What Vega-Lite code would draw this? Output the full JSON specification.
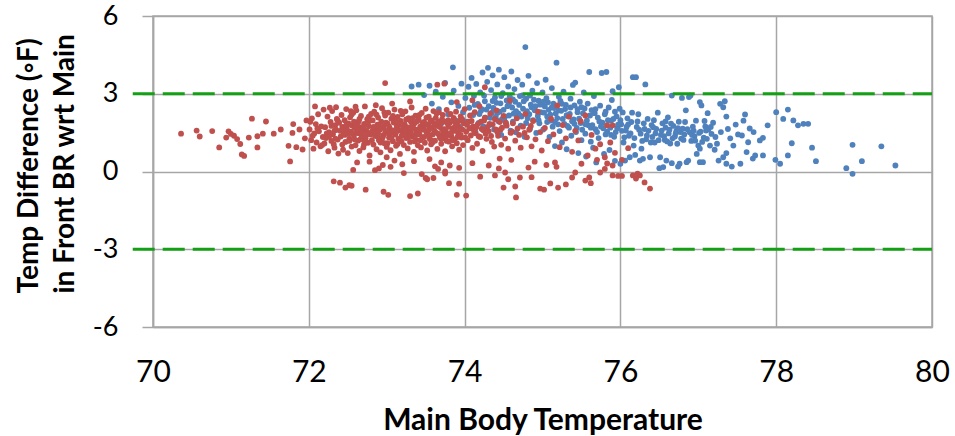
{
"$schema": "https://vega.github.io/schema/vega-lite/v6.json",
"width": 779, "height": 311,
"autosize": "none",
"padding": {"left": 153, "top": 16, "right": 23, "bottom": 109},
"background": "white",
"config": {"view": {"stroke": "#a6a6a6", "strokeWidth": 1.5}, "font": "Lato"},
"datasets": {
"pts": [
{"x":70.36,"y":1.46,"g":"r"},{"x":70.56,"y":1.58,"g":"r"},{"x":70.60,"y":1.35,"g":"r"},{"x":70.76,"y":1.56,"g":"r"},{"x":70.85,"y":0.93,"g":"r"},{"x":70.94,"y":1.31,"g":"r"},{"x":70.97,"y":1.55,"g":"r"},{"x":71.00,"y":1.45,"g":"r"},{"x":71.04,"y":1.38,"g":"r"},{"x":71.08,"y":1.25,"g":"r"},{"x":71.12,"y":1.06,"g":"r"},{"x":71.14,"y":0.66,"g":"r"},{"x":71.17,"y":0.60,"g":"r"},{"x":71.23,"y":1.31,"g":"r"},{"x":71.27,"y":2.04,"g":"r"},{"x":71.34,"y":1.36,"g":"r"},{"x":71.34,"y":0.93,"g":"r"},{"x":71.41,"y":1.46,"g":"r"},{"x":71.45,"y":1.93,"g":"r"},{"x":71.55,"y":1.46,"g":"r"},{"x":71.64,"y":1.62,"g":"r"},{"x":71.76,"y":0.39,"g":"r"},{"x":71.74,"y":0.99,"g":"r"},{"x":71.80,"y":1.83,"g":"r"},{"x":71.79,"y":1.49,"g":"r"},{"x":71.84,"y":0.94,"g":"r"},{"x":71.92,"y":0.85,"g":"r"},{"x":71.88,"y":1.62,"g":"r"},{"x":71.95,"y":1.28,"g":"r"},{"x":71.97,"y":1.97,"g":"r"},
{"x":72.01,"y":1.62,"g":"r"},{"x":72.03,"y":1.21,"g":"r"},{"x":72.04,"y":2.05,"g":"r"},{"x":72.06,"y":0.88,"g":"r"},{"x":72.07,"y":1.47,"g":"r"},{"x":72.09,"y":1.83,"g":"r"},{"x":72.10,"y":1.12,"g":"r"},{"x":72.12,"y":2.21,"g":"r"},{"x":72.13,"y":1.55,"g":"r"},{"x":72.15,"y":0.97,"g":"r"},{"x":72.16,"y":1.74,"g":"r"},{"x":72.18,"y":1.33,"g":"r"},{"x":72.19,"y":2.39,"g":"r"},{"x":72.20,"y":1.08,"g":"r"},{"x":72.02,"y":1.92,"g":"r"},{"x":72.05,"y":1.38,"g":"r"},{"x":72.11,"y":1.66,"g":"r"},{"x":72.17,"y":1.02,"g":"r"},
{"x":72.21,"y":1.71,"g":"r"},{"x":72.22,"y":1.29,"g":"r"},{"x":72.24,"y":2.12,"g":"r"},{"x":72.25,"y":0.78,"g":"r"},{"x":72.26,"y":1.52,"g":"r"},{"x":72.28,"y":1.91,"g":"r"},{"x":72.29,"y":1.18,"g":"r"},{"x":72.30,"y":2.33,"g":"r"},{"x":72.31,"y":1.44,"g":"r"},{"x":72.33,"y":0.92,"g":"r"},{"x":72.34,"y":1.79,"g":"r"},{"x":72.35,"y":1.61,"g":"r"},{"x":72.36,"y":2.03,"g":"r"},{"x":72.37,"y":1.23,"g":"r"},{"x":72.38,"y":0.69,"g":"r"},{"x":72.39,"y":1.88,"g":"r"},{"x":72.23,"y":1.47,"g":"r"},{"x":72.27,"y":2.46,"g":"r"},{"x":72.32,"y":1.05,"g":"r"},{"x":72.40,"y":1.57,"g":"r"},
{"x":72.41,"y":1.35,"g":"r"},{"x":72.42,"y":2.18,"g":"r"},{"x":72.43,"y":1.72,"g":"r"},{"x":72.44,"y":0.84,"g":"r"},{"x":72.45,"y":1.49,"g":"r"},{"x":72.46,"y":1.98,"g":"r"},{"x":72.47,"y":1.14,"g":"r"},{"x":72.48,"y":2.41,"g":"r"},{"x":72.49,"y":1.63,"g":"r"},{"x":72.50,"y":0.71,"g":"r"},{"x":72.51,"y":1.86,"g":"r"},{"x":72.52,"y":1.27,"g":"r"},{"x":72.53,"y":2.09,"g":"r"},{"x":72.54,"y":1.54,"g":"r"},{"x":72.55,"y":0.96,"g":"r"},{"x":72.56,"y":1.77,"g":"r"},{"x":72.57,"y":2.27,"g":"r"},{"x":72.58,"y":1.39,"g":"r"},{"x":72.59,"y":1.68,"g":"r"},{"x":72.60,"y":1.01,"g":"r"},{"x":72.44,"y":1.58,"g":"r"},{"x":72.52,"y":1.81,"g":"r"},{"x":72.57,"y":1.46,"g":"r"},
{"x":72.61,"y":2.36,"g":"r"},{"x":72.62,"y":1.52,"g":"r"},{"x":72.63,"y":1.19,"g":"r"},{"x":72.64,"y":1.93,"g":"r"},{"x":72.65,"y":0.79,"g":"r"},{"x":72.66,"y":1.71,"g":"r"},{"x":72.67,"y":2.14,"g":"r"},{"x":72.68,"y":1.36,"g":"r"},{"x":72.69,"y":1.62,"g":"r"},{"x":72.70,"y":0.93,"g":"r"},{"x":72.71,"y":1.84,"g":"r"},{"x":72.72,"y":2.51,"g":"r"},{"x":72.73,"y":1.28,"g":"r"},{"x":72.74,"y":1.57,"g":"r"},{"x":72.75,"y":2.02,"g":"r"},{"x":72.76,"y":1.11,"g":"r"},{"x":72.77,"y":1.75,"g":"r"},{"x":72.78,"y":0.62,"g":"r"},{"x":72.79,"y":1.43,"g":"r"},{"x":72.80,"y":2.22,"g":"r"},{"x":72.64,"y":1.48,"g":"r"},{"x":72.70,"y":1.67,"g":"r"},{"x":72.76,"y":1.89,"g":"r"},{"x":72.66,"y":1.24,"g":"r"},
{"x":72.81,"y":1.55,"g":"r"},{"x":72.82,"y":1.97,"g":"r"},{"x":72.83,"y":1.04,"g":"r"},{"x":72.84,"y":2.31,"g":"r"},{"x":72.85,"y":1.38,"g":"r"},{"x":72.86,"y":1.69,"g":"r"},{"x":72.87,"y":0.86,"g":"r"},{"x":72.88,"y":1.81,"g":"r"},{"x":72.89,"y":2.08,"g":"r"},{"x":72.90,"y":1.21,"g":"r"},{"x":72.91,"y":1.61,"g":"r"},{"x":72.92,"y":0.74,"g":"r"},{"x":72.93,"y":1.92,"g":"r"},{"x":72.94,"y":2.44,"g":"r"},{"x":72.95,"y":1.33,"g":"r"},{"x":72.96,"y":1.73,"g":"r"},{"x":72.97,"y":1.09,"g":"r"},{"x":72.98,"y":2.16,"g":"r"},{"x":72.99,"y":1.49,"g":"r"},{"x":73.00,"y":0.95,"g":"r"},{"x":72.84,"y":1.63,"g":"r"},{"x":72.90,"y":1.78,"g":"r"},{"x":72.96,"y":1.41,"g":"r"},
{"x":73.01,"y":1.86,"g":"r"},{"x":73.02,"y":2.27,"g":"r"},{"x":73.03,"y":1.31,"g":"r"},{"x":73.04,"y":1.66,"g":"r"},{"x":73.05,"y":0.82,"g":"r"},{"x":73.06,"y":2.04,"g":"r"},{"x":73.07,"y":1.53,"g":"r"},{"x":73.08,"y":1.17,"g":"r"},{"x":73.09,"y":1.89,"g":"r"},{"x":73.10,"y":2.39,"g":"r"},{"x":73.11,"y":1.42,"g":"r"},{"x":73.12,"y":0.99,"g":"r"},{"x":73.13,"y":1.76,"g":"r"},{"x":73.14,"y":2.11,"g":"r"},{"x":73.15,"y":1.26,"g":"r"},{"x":73.16,"y":1.58,"g":"r"},{"x":73.17,"y":0.68,"g":"r"},{"x":73.18,"y":1.95,"g":"r"},{"x":73.19,"y":1.37,"g":"r"},{"x":73.20,"y":2.21,"g":"r"},{"x":73.05,"y":1.49,"g":"r"},{"x":73.13,"y":1.64,"g":"r"},
{"x":73.21,"y":1.48,"g":"r"},{"x":73.22,"y":1.02,"g":"r"},{"x":73.23,"y":1.83,"g":"r"},{"x":73.24,"y":2.32,"g":"r"},{"x":73.25,"y":1.29,"g":"r"},{"x":73.26,"y":1.71,"g":"r"},{"x":73.27,"y":0.89,"g":"r"},{"x":73.28,"y":2.06,"g":"r"},{"x":73.29,"y":1.56,"g":"r"},{"x":73.30,"y":1.14,"g":"r"},{"x":73.31,"y":1.93,"g":"r"},{"x":73.32,"y":2.47,"g":"r"},{"x":73.33,"y":1.35,"g":"r"},{"x":73.34,"y":1.67,"g":"r"},{"x":73.35,"y":0.76,"g":"r"},{"x":73.36,"y":1.87,"g":"r"},{"x":73.37,"y":2.15,"g":"r"},{"x":73.38,"y":1.22,"g":"r"},{"x":73.39,"y":1.61,"g":"r"},{"x":73.40,"y":1.01,"g":"r"},{"x":73.26,"y":1.45,"g":"r"},{"x":73.34,"y":1.79,"g":"r"},
{"x":73.41,"y":2.01,"g":"r"},{"x":73.42,"y":1.44,"g":"r"},{"x":73.43,"y":1.73,"g":"r"},{"x":73.44,"y":0.93,"g":"r"},{"x":73.45,"y":2.26,"g":"r"},{"x":73.46,"y":1.32,"g":"r"},{"x":73.47,"y":1.62,"g":"r"},{"x":73.48,"y":1.91,"g":"r"},{"x":73.49,"y":1.11,"g":"r"},{"x":73.50,"y":2.42,"g":"r"},{"x":73.51,"y":1.52,"g":"r"},{"x":73.52,"y":0.81,"g":"r"},{"x":73.53,"y":1.81,"g":"r"},{"x":73.54,"y":2.12,"g":"r"},{"x":73.55,"y":1.27,"g":"r"},{"x":73.56,"y":1.69,"g":"r"},{"x":73.57,"y":1.05,"g":"r"},{"x":73.58,"y":1.97,"g":"r"},{"x":73.59,"y":1.43,"g":"r"},{"x":73.60,"y":2.33,"g":"r"},
{"x":73.61,"y":1.58,"g":"r"},{"x":73.62,"y":1.19,"g":"r"},{"x":73.63,"y":2.07,"g":"r"},{"x":73.64,"y":1.76,"g":"r"},{"x":73.65,"y":0.87,"g":"r"},{"x":73.66,"y":1.46,"g":"r"},{"x":73.67,"y":2.29,"g":"r"},{"x":73.68,"y":1.34,"g":"r"},{"x":73.69,"y":1.84,"g":"r"},{"x":73.70,"y":1.07,"g":"r"},{"x":73.71,"y":1.63,"g":"r"},{"x":73.72,"y":2.18,"g":"r"},{"x":73.73,"y":1.28,"g":"r"},{"x":73.74,"y":1.93,"g":"r"},{"x":73.75,"y":0.78,"g":"r"},{"x":73.76,"y":1.54,"g":"r"},{"x":73.77,"y":2.38,"g":"r"},{"x":73.78,"y":1.41,"g":"r"},{"x":73.79,"y":1.72,"g":"r"},{"x":73.80,"y":1.15,"g":"r"},
{"x":73.81,"y":1.88,"g":"r"},{"x":73.82,"y":2.22,"g":"r"},{"x":73.83,"y":1.36,"g":"r"},{"x":73.84,"y":0.97,"g":"r"},{"x":73.85,"y":1.67,"g":"r"},{"x":73.86,"y":2.04,"g":"r"},{"x":73.87,"y":1.24,"g":"r"},{"x":73.88,"y":1.57,"g":"r"},{"x":73.89,"y":2.31,"g":"r"},{"x":73.90,"y":1.09,"g":"r"},{"x":73.91,"y":1.79,"g":"r"},{"x":73.92,"y":1.47,"g":"r"},{"x":73.93,"y":0.84,"g":"r"},{"x":73.94,"y":1.96,"g":"r"},{"x":73.95,"y":2.13,"g":"r"},{"x":73.96,"y":1.31,"g":"r"},{"x":73.97,"y":1.62,"g":"r"},{"x":73.98,"y":1.02,"g":"r"},{"x":73.99,"y":1.86,"g":"r"},{"x":74.00,"y":2.41,"g":"r"},
{"x":74.02,"y":1.53,"g":"r"},{"x":74.04,"y":1.21,"g":"r"},{"x":74.05,"y":1.92,"g":"r"},{"x":74.07,"y":2.16,"g":"r"},{"x":74.08,"y":1.39,"g":"r"},{"x":74.10,"y":0.91,"g":"r"},{"x":74.11,"y":1.74,"g":"r"},{"x":74.13,"y":2.29,"g":"r"},{"x":74.14,"y":1.48,"g":"r"},{"x":74.16,"y":1.07,"g":"r"},{"x":74.17,"y":1.83,"g":"r"},{"x":74.19,"y":2.52,"g":"r"},{"x":74.20,"y":1.33,"g":"r"},{"x":74.22,"y":1.64,"g":"r"},{"x":74.23,"y":0.79,"g":"r"},{"x":74.25,"y":1.97,"g":"r"},{"x":74.26,"y":2.08,"g":"r"},{"x":74.28,"y":1.26,"g":"r"},{"x":74.29,"y":1.71,"g":"r"},
{"x":74.31,"y":1.56,"g":"r"},{"x":74.33,"y":2.23,"g":"r"},{"x":74.35,"y":1.14,"g":"r"},{"x":74.36,"y":1.82,"g":"r"},{"x":74.38,"y":0.96,"g":"r"},{"x":74.40,"y":1.62,"g":"r"},{"x":74.41,"y":2.36,"g":"r"},{"x":74.43,"y":1.38,"g":"r"},{"x":74.45,"y":1.91,"g":"r"},{"x":74.47,"y":1.03,"g":"r"},{"x":74.48,"y":1.69,"g":"r"},{"x":74.50,"y":2.14,"g":"r"},{"x":74.52,"y":1.27,"g":"r"},{"x":74.54,"y":1.77,"g":"r"},{"x":74.56,"y":0.88,"g":"r"},{"x":74.58,"y":2.74,"g":"r"},{"x":74.59,"y":1.49,"g":"r"},
{"x":74.62,"y":1.86,"g":"r"},{"x":74.65,"y":1.19,"g":"r"},{"x":74.67,"y":2.05,"g":"r"},{"x":74.70,"y":1.41,"g":"r"},{"x":74.72,"y":0.92,"g":"r"},{"x":74.75,"y":1.73,"g":"r"},{"x":74.78,"y":2.22,"g":"r"},{"x":74.80,"y":1.32,"g":"r"},{"x":74.83,"y":1.61,"g":"r"},{"x":74.86,"y":0.97,"g":"r"},{"x":74.88,"y":1.95,"g":"r"},{"x":74.91,"y":1.24,"g":"r"},{"x":74.94,"y":2.31,"g":"r"},{"x":74.97,"y":1.52,"g":"r"},{"x":74.99,"y":0.81,"g":"r"},
{"x":75.03,"y":1.68,"g":"r"},{"x":75.07,"y":1.17,"g":"r"},{"x":75.11,"y":2.03,"g":"r"},{"x":75.14,"y":1.43,"g":"r"},{"x":75.19,"y":2.55,"g":"r"},{"x":75.22,"y":0.94,"g":"r"},{"x":75.26,"y":1.79,"g":"r"},{"x":75.30,"y":1.28,"g":"r"},{"x":75.34,"y":2.12,"g":"r"},{"x":75.38,"y":0.76,"g":"r"},{"x":75.42,"y":1.57,"g":"r"},{"x":75.46,"y":1.20,"g":"r"},{"x":75.49,"y":1.94,"g":"r"},
{"x":75.55,"y":2.16,"g":"r"},{"x":75.58,"y":0.62,"g":"r"},{"x":75.63,"y":1.41,"g":"r"},{"x":75.68,"y":0.88,"g":"r"},{"x":75.74,"y":1.05,"g":"r"},{"x":75.80,"y":0.55,"g":"r"},{"x":75.83,"y":1.78,"g":"r"},{"x":75.87,"y":1.12,"g":"r"},{"x":75.90,"y":1.78,"g":"r"},{"x":75.93,"y":0.72,"g":"r"},{"x":76.02,"y":0.45,"g":"r"},{"x":76.10,"y":0.90,"g":"r"},
{"x":72.33,"y":1.58,"g":"r"},{"x":72.46,"y":1.41,"g":"r"},{"x":72.58,"y":1.92,"g":"r"},{"x":72.63,"y":1.61,"g":"r"},{"x":72.69,"y":1.39,"g":"r"},{"x":72.74,"y":1.83,"g":"r"},{"x":72.81,"y":1.21,"g":"r"},{"x":72.86,"y":1.52,"g":"r"},{"x":72.88,"y":1.35,"g":"r"},{"x":72.93,"y":1.69,"g":"r"},{"x":72.99,"y":1.88,"g":"r"},{"x":73.04,"y":1.42,"g":"r"},{"x":73.09,"y":1.59,"g":"r"},{"x":73.11,"y":1.96,"g":"r"},{"x":73.16,"y":1.79,"g":"r"},{"x":73.21,"y":1.67,"g":"r"},{"x":73.28,"y":1.38,"g":"r"},{"x":73.32,"y":1.74,"g":"r"},{"x":73.38,"y":1.52,"g":"r"},{"x":73.44,"y":1.61,"g":"r"},{"x":73.49,"y":1.78,"g":"r"},{"x":73.53,"y":1.43,"g":"r"},{"x":73.58,"y":1.69,"g":"r"},{"x":73.63,"y":1.51,"g":"r"},{"x":73.68,"y":1.72,"g":"r"},{"x":73.72,"y":1.44,"g":"r"},{"x":73.78,"y":1.86,"g":"r"},{"x":73.84,"y":1.55,"g":"r"},{"x":73.88,"y":1.74,"g":"r"},{"x":73.95,"y":1.41,"g":"r"},{"x":74.03,"y":1.81,"g":"r"},{"x":74.12,"y":1.57,"g":"r"},{"x":74.18,"y":1.36,"g":"r"},{"x":74.24,"y":1.59,"g":"r"},{"x":74.32,"y":1.84,"g":"r"},{"x":74.42,"y":1.52,"g":"r"},{"x":72.52,"y":1.18,"g":"r"},{"x":72.71,"y":1.05,"g":"r"},{"x":72.92,"y":1.12,"g":"r"},{"x":73.14,"y":1.06,"g":"r"},{"x":73.36,"y":1.16,"g":"r"},{"x":73.57,"y":1.21,"g":"r"},{"x":73.77,"y":1.18,"g":"r"},{"x":72.55,"y":2.20,"g":"r"},{"x":72.77,"y":2.12,"g":"r"},{"x":72.97,"y":2.28,"g":"r"},{"x":73.18,"y":2.34,"g":"r"},{"x":73.42,"y":2.18,"g":"r"},{"x":73.64,"y":2.24,"g":"r"},{"x":73.86,"y":2.07,"g":"r"},
{"x":72.26,"y":1.34,"g":"r"},{"x":72.29,"y":1.76,"g":"r"},{"x":72.34,"y":1.27,"g":"r"},{"x":72.37,"y":1.97,"g":"r"},{"x":72.43,"y":1.04,"g":"r"},{"x":72.48,"y":1.79,"g":"r"},{"x":72.51,"y":1.46,"g":"r"},{"x":72.54,"y":2.33,"g":"r"},{"x":72.59,"y":1.23,"g":"r"},{"x":72.62,"y":1.78,"g":"r"},{"x":72.65,"y":2.03,"g":"r"},{"x":72.68,"y":1.51,"g":"r"},{"x":72.72,"y":1.16,"g":"r"},{"x":72.75,"y":1.44,"g":"r"},{"x":72.79,"y":1.98,"g":"r"},{"x":72.83,"y":1.72,"g":"r"},{"x":72.87,"y":2.19,"g":"r"},{"x":72.89,"y":1.46,"g":"r"},{"x":72.94,"y":1.27,"g":"r"},{"x":72.98,"y":1.58,"g":"r"},{"x":73.01,"y":1.09,"g":"r"},{"x":73.03,"y":1.74,"g":"r"},{"x":73.06,"y":1.29,"g":"r"},{"x":73.08,"y":2.14,"g":"r"},{"x":73.12,"y":1.51,"g":"r"},{"x":73.15,"y":1.88,"g":"r"},{"x":73.19,"y":1.16,"g":"r"},{"x":73.23,"y":1.59,"g":"r"},{"x":73.25,"y":2.01,"g":"r"},{"x":73.27,"y":1.32,"g":"r"},{"x":73.31,"y":1.51,"g":"r"},{"x":73.33,"y":2.06,"g":"r"},{"x":73.37,"y":1.41,"g":"r"},{"x":73.39,"y":1.94,"g":"r"},{"x":73.43,"y":1.21,"g":"r"},{"x":73.46,"y":1.87,"g":"r"},{"x":73.48,"y":1.33,"g":"r"},{"x":73.51,"y":2.08,"g":"r"},{"x":73.54,"y":1.61,"g":"r"},{"x":73.56,"y":1.92,"g":"r"},{"x":73.59,"y":1.13,"g":"r"},{"x":73.61,"y":1.84,"g":"r"},{"x":73.66,"y":1.93,"g":"r"},{"x":73.69,"y":1.28,"g":"r"},{"x":73.71,"y":2.01,"g":"r"},{"x":73.74,"y":1.63,"g":"r"},{"x":73.76,"y":1.34,"g":"r"},{"x":73.79,"y":1.98,"g":"r"},{"x":73.82,"y":1.47,"g":"r"},{"x":73.85,"y":1.21,"g":"r"},{"x":73.87,"y":1.93,"g":"r"},{"x":73.91,"y":1.33,"g":"r"},{"x":73.94,"y":1.66,"g":"r"},{"x":73.97,"y":2.01,"g":"r"},{"x":74.01,"y":1.31,"g":"r"},{"x":74.06,"y":1.66,"g":"r"},{"x":74.09,"y":1.95,"g":"r"},{"x":74.15,"y":1.71,"g":"r"},{"x":74.21,"y":1.92,"g":"r"},{"x":74.27,"y":1.46,"g":"r"},{"x":74.34,"y":1.37,"g":"r"},{"x":74.39,"y":2.02,"g":"r"},{"x":74.46,"y":1.61,"g":"r"},{"x":74.53,"y":1.88,"g":"r"},{"x":74.61,"y":1.54,"g":"r"},{"x":74.68,"y":1.66,"g":"r"},{"x":74.77,"y":1.49,"g":"r"},{"x":74.85,"y":1.76,"g":"r"},
{"x":72.32,"y":-0.38,"g":"r"},{"x":72.40,"y":-0.43,"g":"r"},{"x":72.47,"y":-0.62,"g":"r"},{"x":72.52,"y":-0.53,"g":"r"},{"x":72.55,"y":-0.55,"g":"r"},{"x":72.57,"y":0.06,"g":"r"},{"x":72.73,"y":-0.70,"g":"r"},{"x":72.96,"y":-0.78,"g":"r"},{"x":73.02,"y":-0.90,"g":"r"},{"x":73.30,"y":-0.95,"g":"r"},{"x":73.40,"y":-0.85,"g":"r"},{"x":73.45,"y":-0.10,"g":"r"},{"x":73.50,"y":-0.25,"g":"r"},{"x":73.52,"y":-0.30,"g":"r"},{"x":73.60,"y":-0.25,"g":"r"},{"x":73.80,"y":-0.45,"g":"r"},{"x":73.90,"y":-0.90,"g":"r"},{"x":72.90,"y":0.12,"g":"r"},{"x":72.95,"y":0.25,"g":"r"},{"x":73.05,"y":0.18,"g":"r"},{"x":73.20,"y":0.28,"g":"r"},{"x":73.22,"y":-0.06,"g":"r"},{"x":73.62,"y":0.20,"g":"r"},{"x":73.66,"y":0.10,"g":"r"},{"x":73.75,"y":0.00,"g":"r"},{"x":73.81,"y":0.23,"g":"r"},{"x":73.93,"y":0.14,"g":"r"},{"x":73.75,"y":-0.08,"g":"r"},{"x":73.93,"y":-0.47,"g":"r"},{"x":74.02,"y":-0.93,"g":"r"},{"x":74.20,"y":-0.20,"g":"r"},{"x":74.31,"y":0.23,"g":"r"},{"x":74.39,"y":-0.15,"g":"r"},{"x":74.45,"y":0.50,"g":"r"},{"x":74.44,"y":0.12,"g":"r"},{"x":74.52,"y":-0.04,"g":"r"},{"x":74.50,"y":-0.62,"g":"r"},{"x":74.56,"y":-0.30,"g":"r"},{"x":74.65,"y":-0.58,"g":"r"},{"x":74.66,"y":-1.00,"g":"r"},{"x":74.71,"y":-0.23,"g":"r"},{"x":74.82,"y":0.15,"g":"r"},{"x":74.86,"y":-0.22,"g":"r"},{"x":74.97,"y":-0.66,"g":"r"},{"x":75.02,"y":-0.70,"g":"r"},{"x":75.10,"y":-0.46,"g":"r"},{"x":75.16,"y":0.35,"g":"r"},{"x":75.18,"y":0.18,"g":"r"},{"x":75.20,"y":-0.62,"g":"r"},{"x":75.30,"y":-0.50,"g":"r"},{"x":75.38,"y":-0.23,"g":"r"},{"x":75.42,"y":-0.04,"g":"r"},{"x":75.55,"y":-0.35,"g":"r"},{"x":75.60,"y":-0.23,"g":"r"},{"x":75.62,"y":-0.45,"g":"r"},{"x":75.74,"y":-0.04,"g":"r"},{"x":75.80,"y":0.10,"g":"r"},{"x":75.83,"y":0.31,"g":"r"},{"x":75.90,"y":-0.15,"g":"r"},{"x":75.97,"y":-0.17,"g":"r"},{"x":76.02,"y":-0.17,"g":"r"},{"x":76.16,"y":-0.15,"g":"r"},{"x":76.20,"y":-0.27,"g":"r"},{"x":76.25,"y":-0.15,"g":"r"},{"x":76.22,"y":-0.08,"g":"r"},{"x":76.31,"y":-0.42,"g":"r"},{"x":76.38,"y":-0.66,"g":"r"},{"x":75.90,"y":0.23,"g":"r"},{"x":72.62,"y":0.35,"g":"r"},{"x":72.78,"y":0.38,"g":"r"},{"x":72.85,"y":0.05,"g":"r"},{"x":73.10,"y":0.42,"g":"r"},{"x":73.35,"y":0.40,"g":"r"},{"x":73.55,"y":0.48,"g":"r"},{"x":73.00,"y":0.55,"g":"r"},{"x":73.70,"y":0.35,"g":"r"},{"x":74.10,"y":0.32,"g":"r"},{"x":74.60,"y":0.45,"g":"r"},{"x":74.90,"y":0.38,"g":"r"},{"x":75.05,"y":0.25,"g":"r"},{"x":75.50,"y":0.30,"g":"r"},{"x":75.70,"y":0.45,"g":"r"},
{"x":72.08,"y":2.51,"g":"r"},{"x":72.35,"y":2.48,"g":"r"},{"x":72.60,"y":2.50,"g":"r"},{"x":72.86,"y":2.56,"g":"r"},{"x":73.07,"y":2.62,"g":"r"},{"x":72.98,"y":3.41,"g":"r"},{"x":73.65,"y":3.35,"g":"r"},{"x":73.74,"y":3.39,"g":"r"},{"x":74.26,"y":3.25,"g":"r"},{"x":73.30,"y":2.70,"g":"r"},{"x":73.90,"y":2.68,"g":"r"},{"x":74.10,"y":2.75,"g":"r"},
{"x":73.32,"y":3.28,"g":"b"},{"x":73.41,"y":3.35,"g":"b"},{"x":73.48,"y":2.95,"g":"b"},{"x":73.55,"y":3.31,"g":"b"},{"x":73.58,"y":2.62,"g":"b"},{"x":73.63,"y":3.08,"g":"b"},{"x":73.67,"y":2.41,"g":"b"},{"x":73.72,"y":2.88,"g":"b"},{"x":73.75,"y":3.42,"g":"b"},{"x":73.79,"y":2.21,"g":"b"},{"x":73.83,"y":2.67,"g":"b"},{"x":73.86,"y":3.12,"g":"b"},{"x":73.89,"y":1.96,"g":"b"},{"x":73.92,"y":2.53,"g":"b"},{"x":73.96,"y":3.39,"g":"b"},{"x":73.98,"y":2.29,"g":"b"},{"x":73.85,"y":4.02,"g":"b"},{"x":73.70,"y":1.85,"g":"b"},{"x":73.94,"y":1.72,"g":"b"},
{"x":74.01,"y":2.84,"g":"b"},{"x":74.03,"y":1.92,"g":"b"},{"x":74.05,"y":3.27,"g":"b"},{"x":74.06,"y":2.46,"g":"b"},{"x":74.08,"y":1.68,"g":"b"},{"x":74.09,"y":3.61,"g":"b"},{"x":74.11,"y":2.18,"g":"b"},{"x":74.12,"y":2.92,"g":"b"},{"x":74.14,"y":1.53,"g":"b"},{"x":74.15,"y":3.38,"g":"b"},{"x":74.17,"y":2.61,"g":"b"},{"x":74.18,"y":1.87,"g":"b"},{"x":74.20,"y":3.05,"g":"b"},{"x":74.21,"y":2.34,"g":"b"},{"x":74.23,"y":3.82,"g":"b"},{"x":74.24,"y":1.74,"g":"b"},{"x":74.26,"y":2.71,"g":"b"},{"x":74.27,"y":2.08,"g":"b"},{"x":74.29,"y":3.46,"g":"b"},{"x":74.30,"y":4.00,"g":"b"},
{"x":74.31,"y":2.52,"g":"b"},{"x":74.32,"y":1.79,"g":"b"},{"x":74.34,"y":3.14,"g":"b"},{"x":74.35,"y":2.27,"g":"b"},{"x":74.36,"y":3.71,"g":"b"},{"x":74.38,"y":1.62,"g":"b"},{"x":74.39,"y":2.86,"g":"b"},{"x":74.40,"y":2.11,"g":"b"},{"x":74.42,"y":3.36,"g":"b"},{"x":74.43,"y":1.95,"g":"b"},{"x":74.44,"y":3.93,"g":"b"},{"x":74.46,"y":2.63,"g":"b"},{"x":74.47,"y":1.41,"g":"b"},{"x":74.49,"y":3.02,"g":"b"},{"x":74.50,"y":2.38,"g":"b"},{"x":74.51,"y":3.64,"g":"b"},{"x":74.53,"y":1.86,"g":"b"},{"x":74.54,"y":2.74,"g":"b"},{"x":74.56,"y":3.28,"g":"b"},{"x":74.57,"y":2.16,"g":"b"},{"x":74.59,"y":1.58,"g":"b"},{"x":74.60,"y":3.86,"g":"b"},{"x":74.37,"y":2.45,"g":"b"},{"x":74.48,"y":2.02,"g":"b"},
{"x":74.61,"y":2.47,"g":"b"},{"x":74.62,"y":1.92,"g":"b"},{"x":74.64,"y":3.18,"g":"b"},{"x":74.65,"y":2.69,"g":"b"},{"x":74.66,"y":1.51,"g":"b"},{"x":74.68,"y":3.53,"g":"b"},{"x":74.69,"y":2.24,"g":"b"},{"x":74.71,"y":2.91,"g":"b"},{"x":74.72,"y":1.77,"g":"b"},{"x":74.74,"y":3.35,"g":"b"},{"x":74.75,"y":2.42,"g":"b"},{"x":74.77,"y":1.34,"g":"b"},{"x":74.78,"y":4.80,"g":"b"},{"x":74.79,"y":2.81,"g":"b"},{"x":74.81,"y":2.05,"g":"b"},{"x":74.82,"y":3.69,"g":"b"},{"x":74.84,"y":1.65,"g":"b"},{"x":74.85,"y":2.58,"g":"b"},{"x":74.87,"y":3.12,"g":"b"},{"x":74.88,"y":1.98,"g":"b"},{"x":74.90,"y":2.36,"g":"b"},{"x":74.67,"y":2.08,"g":"b"},{"x":74.83,"y":2.21,"g":"b"},
{"x":74.92,"y":1.49,"g":"b"},{"x":74.93,"y":3.41,"g":"b"},{"x":74.95,"y":2.73,"g":"b"},{"x":74.96,"y":1.86,"g":"b"},{"x":74.98,"y":2.29,"g":"b"},{"x":75.00,"y":3.05,"g":"b"},{"x":75.01,"y":1.62,"g":"b"},{"x":75.03,"y":2.51,"g":"b"},{"x":75.04,"y":3.54,"g":"b"},{"x":75.06,"y":1.91,"g":"b"},{"x":75.07,"y":2.67,"g":"b"},{"x":75.09,"y":1.33,"g":"b"},{"x":75.10,"y":2.19,"g":"b"},{"x":75.12,"y":3.22,"g":"b"},{"x":75.13,"y":1.73,"g":"b"},{"x":75.15,"y":2.45,"g":"b"},{"x":75.16,"y":0.98,"g":"b"},{"x":75.18,"y":4.20,"g":"b"},{"x":75.19,"y":2.06,"g":"b"},{"x":75.21,"y":2.88,"g":"b"},
{"x":75.22,"y":1.56,"g":"b"},{"x":75.24,"y":2.34,"g":"b"},{"x":75.25,"y":1.12,"g":"b"},{"x":75.27,"y":3.08,"g":"b"},{"x":75.28,"y":1.84,"g":"b"},{"x":75.30,"y":2.57,"g":"b"},{"x":75.31,"y":0.86,"g":"b"},{"x":75.33,"y":2.13,"g":"b"},{"x":75.34,"y":1.69,"g":"b"},{"x":75.36,"y":2.81,"g":"b"},{"x":75.37,"y":1.38,"g":"b"},{"x":75.39,"y":3.34,"g":"b"},{"x":75.40,"y":2.01,"g":"b"},{"x":75.42,"y":3.43,"g":"b"},{"x":75.43,"y":1.52,"g":"b"},{"x":75.45,"y":2.41,"g":"b"},{"x":75.46,"y":0.71,"g":"b"},{"x":75.48,"y":2.69,"g":"b"},{"x":75.49,"y":1.87,"g":"b"},{"x":75.50,"y":1.21,"g":"b"},
{"x":75.52,"y":2.24,"g":"b"},{"x":75.53,"y":3.05,"g":"b"},{"x":75.55,"y":1.46,"g":"b"},{"x":75.56,"y":0.58,"g":"b"},{"x":75.58,"y":2.62,"g":"b"},{"x":75.59,"y":1.78,"g":"b"},{"x":75.60,"y":3.84,"g":"b"},{"x":75.62,"y":1.15,"g":"b"},{"x":75.63,"y":2.37,"g":"b"},{"x":75.65,"y":0.92,"g":"b"},{"x":75.66,"y":2.91,"g":"b"},{"x":75.68,"y":1.63,"g":"b"},{"x":75.69,"y":0.35,"g":"b"},{"x":75.71,"y":2.08,"g":"b"},{"x":75.72,"y":1.29,"g":"b"},{"x":75.74,"y":2.54,"g":"b"},{"x":75.76,"y":3.80,"g":"b"},{"x":75.77,"y":1.88,"g":"b"},{"x":75.79,"y":0.68,"g":"b"},{"x":75.80,"y":2.21,"g":"b"},
{"x":75.82,"y":3.84,"g":"b"},{"x":75.83,"y":1.54,"g":"b"},{"x":75.85,"y":2.47,"g":"b"},{"x":75.86,"y":0.83,"g":"b"},{"x":75.88,"y":1.96,"g":"b"},{"x":75.89,"y":2.76,"g":"b"},{"x":75.90,"y":3.10,"g":"b"},{"x":75.92,"y":1.34,"g":"b"},{"x":75.93,"y":0.41,"g":"b"},{"x":75.95,"y":2.13,"g":"b"},{"x":75.96,"y":1.67,"g":"b"},{"x":75.98,"y":3.25,"g":"b"},{"x":75.99,"y":2.42,"g":"b"},{"x":76.00,"y":0.30,"g":"b"},{"x":76.01,"y":1.82,"g":"b"},{"x":76.03,"y":2.28,"g":"b"},{"x":76.04,"y":1.12,"g":"b"},{"x":76.06,"y":0.42,"g":"b"},{"x":76.07,"y":1.58,"g":"b"},{"x":76.09,"y":2.05,"g":"b"},
{"x":76.11,"y":1.38,"g":"b"},{"x":76.12,"y":0.55,"g":"b"},{"x":76.14,"y":1.91,"g":"b"},{"x":76.16,"y":3.64,"g":"b"},{"x":76.17,"y":1.00,"g":"b"},{"x":76.19,"y":0.64,"g":"b"},{"x":76.20,"y":3.64,"g":"b"},{"x":76.21,"y":1.72,"g":"b"},{"x":76.23,"y":2.21,"g":"b"},{"x":76.25,"y":0.42,"g":"b"},{"x":76.26,"y":1.46,"g":"b"},{"x":76.27,"y":0.88,"g":"b"},{"x":76.29,"y":0.49,"g":"b"},{"x":76.30,"y":1.86,"g":"b"},{"x":76.32,"y":3.36,"g":"b"},{"x":76.33,"y":1.24,"g":"b"},{"x":76.35,"y":2.03,"g":"b"},{"x":76.36,"y":1.57,"g":"b"},{"x":76.38,"y":0.55,"g":"b"},{"x":76.40,"y":1.79,"g":"b"},
{"x":76.41,"y":1.33,"g":"b"},{"x":76.43,"y":1.98,"g":"b"},{"x":76.44,"y":1.12,"g":"b"},{"x":76.46,"y":1.64,"g":"b"},{"x":76.48,"y":2.27,"g":"b"},{"x":76.50,"y":0.13,"g":"b"},{"x":76.51,"y":0.55,"g":"b"},{"x":76.52,"y":1.41,"g":"b"},{"x":76.54,"y":1.86,"g":"b"},{"x":76.55,"y":0.17,"g":"b"},{"x":76.57,"y":1.22,"g":"b"},{"x":76.58,"y":1.69,"g":"b"},{"x":76.59,"y":0.42,"g":"b"},{"x":76.61,"y":2.09,"g":"b"},{"x":76.62,"y":1.47,"g":"b"},{"x":76.64,"y":1.08,"g":"b"},{"x":76.66,"y":2.93,"g":"b"},{"x":76.66,"y":0.32,"g":"b"},{"x":76.68,"y":1.76,"g":"b"},{"x":76.70,"y":1.35,"g":"b"},
{"x":76.72,"y":1.58,"g":"b"},{"x":76.74,"y":0.19,"g":"b"},{"x":76.75,"y":1.92,"g":"b"},{"x":76.76,"y":0.30,"g":"b"},{"x":76.78,"y":1.27,"g":"b"},{"x":76.79,"y":2.84,"g":"b"},{"x":76.80,"y":1.65,"g":"b"},{"x":76.82,"y":1.43,"g":"b"},{"x":76.84,"y":2.36,"g":"b"},{"x":76.85,"y":0.36,"g":"b"},{"x":76.87,"y":0.42,"g":"b"},{"x":76.88,"y":2.87,"g":"b"},{"x":76.89,"y":1.51,"g":"b"},{"x":76.90,"y":2.93,"g":"b"},{"x":76.91,"y":1.18,"g":"b"},{"x":76.93,"y":1.73,"g":"b"},{"x":76.95,"y":1.36,"g":"b"},{"x":76.97,"y":1.96,"g":"b"},{"x":76.98,"y":0.68,"g":"b"},{"x":77.00,"y":1.00,"g":"b"},
{"x":77.02,"y":0.88,"g":"b"},{"x":77.02,"y":2.68,"g":"b"},{"x":77.03,"y":1.54,"g":"b"},{"x":77.04,"y":2.55,"g":"b"},{"x":77.02,"y":0.36,"g":"b"},{"x":77.06,"y":0.36,"g":"b"},{"x":77.07,"y":1.31,"g":"b"},{"x":77.09,"y":1.74,"g":"b"},{"x":77.11,"y":1.26,"g":"b"},{"x":77.12,"y":2.25,"g":"b"},{"x":77.13,"y":1.62,"g":"b"},{"x":77.15,"y":1.00,"g":"b"},{"x":77.17,"y":1.45,"g":"b"},{"x":77.19,"y":1.88,"g":"b"},{"x":77.21,"y":0.84,"g":"b"},{"x":77.24,"y":1.07,"g":"b"},{"x":77.26,"y":0.42,"g":"b"},{"x":77.28,"y":2.61,"g":"b"},{"x":77.29,"y":1.52,"g":"b"},
{"x":77.32,"y":0.55,"g":"b"},{"x":77.32,"y":2.48,"g":"b"},{"x":77.34,"y":2.71,"g":"b"},{"x":77.36,"y":0.71,"g":"b"},{"x":77.36,"y":2.12,"g":"b"},{"x":77.36,"y":0.30,"g":"b"},{"x":77.38,"y":1.64,"g":"b"},{"x":77.41,"y":1.28,"g":"b"},{"x":77.43,"y":0.19,"g":"b"},{"x":77.45,"y":1.00,"g":"b"},{"x":77.48,"y":1.81,"g":"b"},{"x":77.51,"y":1.43,"g":"b"},{"x":77.54,"y":0.30,"g":"b"},{"x":77.56,"y":1.39,"g":"b"},{"x":77.58,"y":1.96,"g":"b"},
{"x":77.60,"y":2.20,"g":"b"},{"x":77.62,"y":0.75,"g":"b"},{"x":77.64,"y":1.13,"g":"b"},{"x":77.66,"y":1.66,"g":"b"},{"x":77.70,"y":0.50,"g":"b"},{"x":77.71,"y":1.52,"g":"b"},{"x":77.73,"y":0.62,"g":"b"},{"x":77.79,"y":1.20,"g":"b"},{"x":77.83,"y":1.30,"g":"b"},{"x":77.83,"y":0.62,"g":"b"},{"x":77.89,"y":1.78,"g":"b"},{"x":77.99,"y":0.45,"g":"b"},
{"x":78.00,"y":2.29,"g":"b"},{"x":78.05,"y":0.30,"g":"b"},{"x":78.09,"y":2.03,"g":"b"},{"x":78.15,"y":2.39,"g":"b"},{"x":78.15,"y":0.62,"g":"b"},{"x":78.20,"y":1.09,"g":"b"},{"x":78.22,"y":1.97,"g":"b"},{"x":78.28,"y":1.78,"g":"b"},{"x":78.35,"y":1.84,"g":"b"},{"x":78.41,"y":1.84,"g":"b"},{"x":78.46,"y":0.92,"g":"b"},{"x":78.51,"y":0.40,"g":"b"},{"x":78.90,"y":0.13,"g":"b"},{"x":78.98,"y":-0.09,"g":"b"},{"x":78.98,"y":1.03,"g":"b"},{"x":79.10,"y":0.40,"g":"b"},{"x":79.35,"y":0.97,"g":"b"},{"x":79.53,"y":0.23,"g":"b"},
{"x":74.22,"y":2.41,"g":"b"},{"x":74.33,"y":2.07,"g":"b"},{"x":74.41,"y":2.65,"g":"b"},{"x":74.45,"y":2.31,"g":"b"},{"x":74.52,"y":2.12,"g":"b"},{"x":74.55,"y":2.52,"g":"b"},{"x":74.58,"y":2.89,"g":"b"},{"x":74.63,"y":2.23,"g":"b"},{"x":74.70,"y":2.57,"g":"b"},{"x":74.73,"y":2.12,"g":"b"},{"x":74.76,"y":2.71,"g":"b"},{"x":74.80,"y":2.33,"g":"b"},{"x":74.86,"y":2.48,"g":"b"},{"x":74.89,"y":2.77,"g":"b"},{"x":74.94,"y":2.14,"g":"b"},{"x":74.97,"y":2.58,"g":"b"},{"x":75.02,"y":2.27,"g":"b"},{"x":75.05,"y":2.83,"g":"b"},{"x":75.08,"y":2.38,"g":"b"},{"x":75.11,"y":1.96,"g":"b"},{"x":75.14,"y":2.62,"g":"b"},{"x":75.17,"y":2.24,"g":"b"},{"x":75.20,"y":1.82,"g":"b"},{"x":75.23,"y":2.72,"g":"b"},{"x":75.26,"y":2.03,"g":"b"},{"x":75.29,"y":2.41,"g":"b"},{"x":75.32,"y":1.76,"g":"b"},{"x":75.35,"y":2.22,"g":"b"},{"x":75.38,"y":1.94,"g":"b"},{"x":75.41,"y":2.55,"g":"b"},{"x":75.44,"y":1.68,"g":"b"},{"x":75.47,"y":2.04,"g":"b"},{"x":75.51,"y":1.61,"g":"b"},{"x":75.54,"y":2.43,"g":"b"},{"x":75.57,"y":1.97,"g":"b"},{"x":75.61,"y":2.16,"g":"b"},{"x":75.64,"y":1.79,"g":"b"},{"x":75.67,"y":2.25,"g":"b"},{"x":75.70,"y":1.52,"g":"b"},{"x":75.73,"y":1.93,"g":"b"},{"x":75.78,"y":1.67,"g":"b"},{"x":75.81,"y":1.43,"g":"b"},{"x":75.84,"y":1.98,"g":"b"},{"x":75.87,"y":1.69,"g":"b"},{"x":75.91,"y":2.03,"g":"b"},{"x":75.94,"y":1.52,"g":"b"},{"x":75.97,"y":1.81,"g":"b"},{"x":76.02,"y":1.57,"g":"b"},{"x":76.05,"y":1.32,"g":"b"},{"x":76.08,"y":1.73,"g":"b"},{"x":76.13,"y":1.47,"g":"b"},{"x":76.18,"y":1.29,"g":"b"},{"x":76.24,"y":1.61,"g":"b"},{"x":76.28,"y":1.18,"g":"b"},{"x":76.34,"y":1.39,"g":"b"},{"x":76.39,"y":1.12,"g":"b"},{"x":76.45,"y":1.47,"g":"b"},{"x":76.49,"y":1.21,"g":"b"},{"x":76.53,"y":1.58,"g":"b"},{"x":76.56,"y":1.36,"g":"b"},{"x":76.60,"y":1.16,"g":"b"},{"x":76.63,"y":1.61,"g":"b"},{"x":76.67,"y":1.28,"g":"b"},{"x":76.71,"y":1.48,"g":"b"},{"x":76.73,"y":1.07,"g":"b"},{"x":76.77,"y":1.52,"g":"b"},{"x":76.81,"y":1.22,"g":"b"},{"x":76.86,"y":1.63,"g":"b"},{"x":76.92,"y":1.41,"g":"b"},{"x":76.96,"y":1.19,"g":"b"},{"x":77.01,"y":1.49,"g":"b"},{"x":77.05,"y":1.14,"g":"b"},{"x":77.10,"y":1.58,"g":"b"},
{"x":74.13,"y":2.57,"g":"b"},{"x":74.19,"y":2.22,"g":"b"},{"x":74.25,"y":2.93,"g":"b"},{"x":74.28,"y":2.39,"g":"b"},{"x":74.36,"y":2.72,"g":"b"},{"x":74.42,"y":2.26,"g":"b"},{"x":74.47,"y":2.91,"g":"b"},{"x":74.51,"y":1.98,"g":"b"},{"x":74.57,"y":2.62,"g":"b"},{"x":74.62,"y":2.78,"g":"b"},{"x":74.66,"y":2.33,"g":"b"},{"x":74.71,"y":2.16,"g":"b"},{"x":74.74,"y":2.94,"g":"b"},{"x":74.79,"y":1.87,"g":"b"},{"x":74.84,"y":2.93,"g":"b"},{"x":74.91,"y":2.52,"g":"b"},{"x":74.95,"y":1.98,"g":"b"},{"x":75.01,"y":2.69,"g":"b"},{"x":75.06,"y":2.12,"g":"b"},{"x":75.12,"y":2.48,"g":"b"},{"x":75.16,"y":1.91,"g":"b"},{"x":75.21,"y":2.36,"g":"b"},{"x":75.25,"y":2.61,"g":"b"},{"x":75.31,"y":2.17,"g":"b"},{"x":75.36,"y":2.47,"g":"b"},{"x":75.41,"y":1.84,"g":"b"},{"x":75.45,"y":2.29,"g":"b"},{"x":75.50,"y":2.48,"g":"b"},{"x":75.55,"y":1.82,"g":"b"},{"x":75.62,"y":1.69,"g":"b"},{"x":75.68,"y":2.41,"g":"b"},{"x":75.75,"y":1.74,"g":"b"},{"x":75.81,"y":2.31,"g":"b"},{"x":75.88,"y":1.41,"g":"b"},{"x":75.93,"y":2.31,"g":"b"},{"x":76.00,"y":1.98,"g":"b"},{"x":76.10,"y":1.82,"g":"b"},{"x":76.15,"y":2.27,"g":"b"},{"x":76.22,"y":1.93,"g":"b"},{"x":76.31,"y":1.64,"g":"b"},{"x":76.42,"y":1.71,"g":"b"},{"x":76.58,"y":1.93,"g":"b"},{"x":76.65,"y":1.85,"g":"b"},{"x":76.74,"y":1.67,"g":"b"},{"x":76.83,"y":1.91,"g":"b"},{"x":76.94,"y":1.58,"g":"b"},{"x":77.08,"y":1.95,"g":"b"},{"x":77.16,"y":1.72,"g":"b"},{"x":77.22,"y":1.33,"g":"b"}
],
"limits": [{"x":69.74,"x2":80,"y":3},{"x":69.74,"x2":80,"y":-3}]
},
"encoding": {
"x": {"field": "x", "type": "quantitative",
 "scale": {"domain": [70, 80], "nice": false, "zero": false},
 "axis": {"values": [70,72,74,76,78,80], "format": "d", "labelFlush": false, "grid": true, "gridColor": "#a6a6a6", "gridWidth": 1.5, "domainColor": "#a6a6a6", "domainWidth": 1.5, "ticks": false, "labelPadding": 30, "labelFontSize": 30, "labelColor": "#000000", "labelFont": "Lato", "title": "Main Body Temperature", "titleFont": "Lato", "titleFontSize": 30, "titleFontWeight": "bold", "titleColor": "#000000", "titleBaseline": "top", "titleY": 78}},
"y": {"field": "y", "type": "quantitative",
 "scale": {"domain": [-6, 6], "nice": false, "zero": false},
 "axis": {"values": [-6,-3,0,3,6], "labelExpr": "replace(datum.label, '−', '-')", "labelFlush": false, "grid": true, "gridColor": "#a6a6a6", "gridWidth": 1.5, "domainColor": "#a6a6a6", "domainWidth": 1.5, "tickColor": "#a6a6a6", "tickWidth": 1.5, "tickSize": 11, "labelPadding": 24, "labelFontSize": 27, "labelColor": "#000000", "labelFont": "Lato", "title": ["Temp Difference (◦F)", "in Front BR wrt Main"], "titleFont": "Lato", "titleFontSize": 28, "titleFontWeight": "bold", "titleColor": "#000000", "titleAngle": -90, "titleAlign": "left", "titleBaseline": "top", "titleX": -138, "titleY": 277, "titleLineHeight": 36}}
},
"layer": [
{
"data": {"name": "pts"},
"transform": [{"filter": "datum.g == 'b'"}],
"mark": {"type": "circle", "size": 34, "opacity": 1},
"encoding": {
"color": {"field": "g", "type": "nominal", "scale": {"domain": ["r", "b"], "range": ["#C0504D", "#4F81BD"]}, "legend": null}
}
},
{
"data": {"name": "pts"},
"transform": [{"filter": "datum.g == 'r'"}],
"mark": {"type": "circle", "size": 34, "opacity": 1},
"encoding": {
"color": {"field": "g", "type": "nominal", "scale": {"domain": ["r", "b"], "range": ["#C0504D", "#4F81BD"]}, "legend": null}
}
},
{
"data": {"name": "limits"},
"mark": {"type": "rule", "color": "#14A014", "strokeWidth": 3, "strokeDash": [22, 8], "clip": false},
"encoding": {
"x": {"field": "x", "type": "quantitative"},
"x2": {"field": "x2"},
"y": {"field": "y", "type": "quantitative"}
}
}
]
}
